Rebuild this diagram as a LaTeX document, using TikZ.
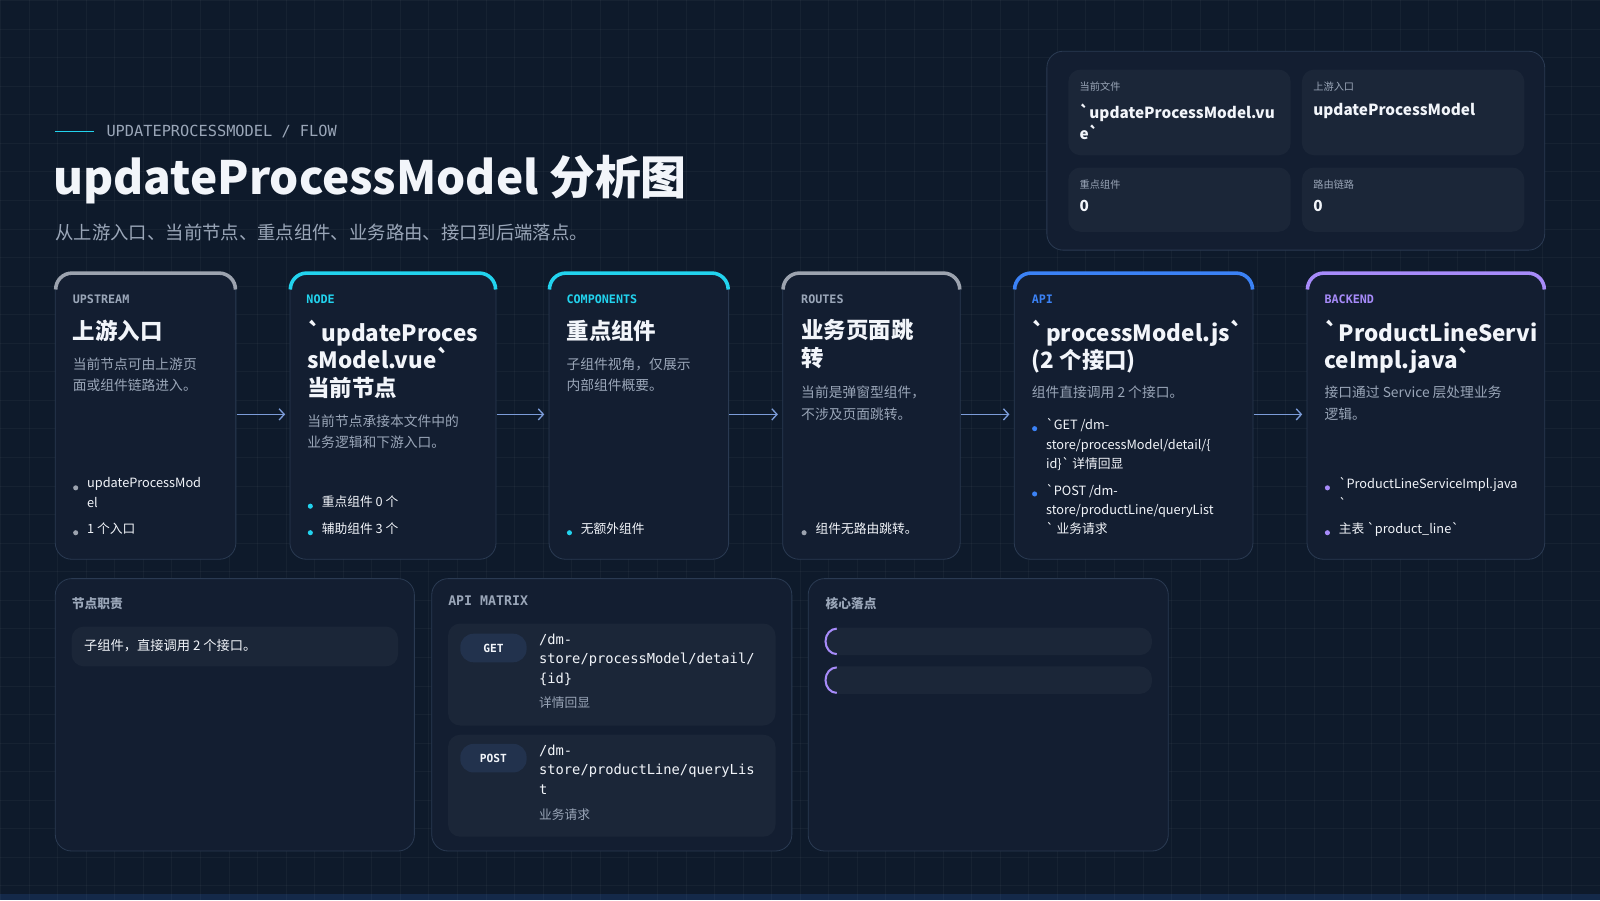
\documentclass[tikz,border=0pt]{standalone}
\usepackage{fontspec}
\setmainfont{Noto Sans CJK SC}[Ligatures=TeXOff]
\newfontfamily\monof{DejaVu Sans Mono}[Ligatures=TeXOff]
\usetikzlibrary{arrows.meta}
\definecolor{bg}{HTML}{0E1A2B}
\definecolor{cardf}{HTML}{131E31}
\definecolor{cardb}{HTML}{2A3A52}
\definecolor{subf}{HTML}{1B2638}
\definecolor{txt}{HTML}{F2F5FA}
\definecolor{mut}{HTML}{9AA6B8}
\definecolor{cyanA}{HTML}{22D3EE}
\definecolor{blueA}{HTML}{3B82F6}
\definecolor{purA}{HTML}{A78BFA}
\definecolor{grayA}{HTML}{9CA3AF}
\definecolor{arr}{HTML}{7C9CD9}
\definecolor{pill}{HTML}{22324D}
\begin{document}
\begin{tikzpicture}[x=1pt,y=-1pt,
  card/.style={draw=cardb,fill=cardf,rounded corners=16pt,line width=0.8pt},
  subbox/.style={fill=subf,rounded corners=12pt},
  tag/.style={anchor=north west,font=\monof\bfseries\fontsize{11.5}{13}\selectfont},
  ttl/.style={anchor=north west,font=\bfseries\fontsize{22}{27}\selectfont,text=txt,align=left,inner sep=0},
  desc/.style={anchor=north west,font=\fontsize{13.5}{21}\selectfont,text=mut,align=left,inner sep=0},
  bul/.style={anchor=north west,font=\fontsize{12.5}{19}\selectfont,text=txt,align=left,inner sep=0},
  flow/.style={-{Straight Barb[length=5pt,width=11pt]},draw=arr,line width=1.3pt},
  lbl/.style={anchor=north west,font=\bfseries\fontsize{12.5}{15}\selectfont,text=mut,inner sep=0}]
\fill[bg] (0,0) rectangle (1568,882);
\foreach \i in {0,28,...,1568} \draw[white,opacity=0.035] (\i,0)--(\i,882);
\foreach \i in {0,28,...,882} \draw[white,opacity=0.035] (0,\i)--(1568,\i);
\fill[blueA,opacity=0.15] (0,876) rectangle (1568,882);
% header
\draw[cyanA,line width=1.2pt] (54,129)--(92,129);
\node[anchor=west,text=mut,font=\monof\fontsize{15}{18}\selectfont,inner sep=0] (kick) at (104,129) {UPDATEPROCESSMODEL / FLOW};
\node[anchor=north west,text=txt,font=\bfseries\fontsize{45}{54}\selectfont,inner sep=0] (title) at (52,152) {updateProcessModel 分析图};
\node[anchor=north west,text=mut,font=\fontsize{18}{22}\selectfont,inner sep=0] (subt) at (54,219) {从上游入口、当前节点、重点组件、业务路由、接口到后端落点。};
% top right
\draw[card] (1026,50) rectangle (1514,245);
\fill[subbox] (1047,68) rectangle (1265,152);
\fill[subbox] (1276,68) rectangle (1494,152);
\fill[subbox] (1047,164) rectangle (1265,227);
\fill[subbox] (1276,164) rectangle (1494,227);
\node[anchor=north west,inner sep=0,text=mut,font=\fontsize{10}{12}\selectfont] (k1) at (1058,80) {当前文件};
\node[anchor=north west,inner sep=0,text=txt,font=\bfseries\fontsize{15}{21}\selectfont,align=left] (v1) at (1058,101) {`updateProcessModel.vu\\e`};
\node[anchor=north west,inner sep=0,text=mut,font=\fontsize{10}{12}\selectfont] (k2) at (1287,80) {上游入口};
\node[anchor=north west,inner sep=0,text=txt,font=\bfseries\fontsize{15}{21}\selectfont] (v2) at (1287,101) {updateProcessModel};
\node[anchor=north west,inner sep=0,text=mut,font=\fontsize{10}{12}\selectfont] (k3) at (1058,176) {重点组件};
\node[anchor=north west,inner sep=0,text=txt,font=\bfseries\fontsize{15}{21}\selectfont] (v3) at (1058,196) {0};
\node[anchor=north west,inner sep=0,text=mut,font=\fontsize{10}{12}\selectfont] (k4) at (1287,176) {路由链路};
\node[anchor=north west,inner sep=0,text=txt,font=\bfseries\fontsize{15}{21}\selectfont] (v4) at (1287,196) {0};
% cards
\def\cardat#1#2#3{\draw[card] (#1,267) rectangle (#2,548);
  \draw[#3,line width=3.5pt,rounded corners=16pt] (#1+0.4,283)|-(#2-0.4,267.5)--(#2-0.4,283);}
\cardat{54}{231}{grayA}
\cardat{284}{486}{cyanA}
\cardat{538}{714}{cyanA}
\cardat{767}{941}{grayA}
\cardat{994}{1228}{blueA}
\cardat{1281}{1514}{purA}
\node[inner sep=0] (c1) at (231,406) {};
\node[inner sep=0] (c2) at (280,406) {};
\node[inner sep=0] (c2r) at (486,406) {};
\node[inner sep=0] (c3) at (534,406) {};
\node[inner sep=0] (c3r) at (714,406) {};
\node[inner sep=0] (c4) at (763,406) {};
\node[inner sep=0] (c4r) at (941,406) {};
\node[inner sep=0] (c5) at (990,406) {};
\node[inner sep=0] (c5r) at (1228,406) {};
\node[inner sep=0] (c6) at (1277,406) {};
\draw[flow] (c1)--(c2);
\draw[flow] (c2r)--(c3);
\draw[flow] (c3r)--(c4);
\draw[flow] (c4r)--(c5);
\draw[flow] (c5r)--(c6);
% card 1
\node[tag,text=mut,inner sep=0] (t1) at (71,289) {UPSTREAM};
\node[ttl] (h1) at (71,313) {上游入口};
\node[desc] (d1) at (71,350) {当前节点可由上游页\\面或组件链路进入。};
\node[bul] (b1) at (85,468) {updateProcessMod\\el};
\node[bul] (b1b) at (85,512) {1 个入口};
% card 2
\node[tag,text=cyanA,inner sep=0] (t2) at (300,289) {NODE};
\node[ttl] (h2) at (301,313) {`updateProces\\sModel.vue`\\当前节点};
\node[desc] (d2) at (301,406) {当前节点承接本文件中的\\业务逻辑和下游入口。};
\node[bul] (b2) at (315,486) {重点组件 0 个};
\node[bul] (b2b) at (315,512) {辅助组件 3 个};
% card 3
\node[tag,text=cyanA,inner sep=0] (t3) at (555,289) {COMPONENTS};
\node[ttl] (h3) at (555,313) {重点组件};
\node[desc] (d3) at (555,350) {子组件视角，仅展示\\内部组件概要。};
\node[bul] (b3) at (569,512) {无额外组件};
% card 4
\node[tag,text=mut,inner sep=0] (t4) at (785,289) {ROUTES};
\node[ttl] (h4) at (785,313) {业务页面跳\\转};
\node[desc] (d4) at (785,378) {当前是弹窗型组件，\\不涉及页面跳转。};
\node[bul] (b4) at (799,512) {组件无路由跳转。};
% card 5
\node[tag,text=blueA,inner sep=0] (t5) at (1011,289) {API};
\node[ttl] (h5) at (1011,313) {`processModel.js`\\(2 个接口)};
\node[desc] (d5) at (1011,378) {组件直接调用 2 个接口。};
\node[bul] (b5) at (1025,410) {`GET /dm-\\store/processModel/detail/\{\\id\}` 详情回显};
\node[bul] (b5b) at (1025,474) {`POST /dm-\\store/productLine/queryList\\` 业务请求};
% card 6
\node[tag,text=purA,inner sep=0] (t6) at (1298,289) {BACKEND};
\node[ttl] (h6) at (1298,313) {`ProductLineServi\\ceImpl.java`};
\node[desc] (d6) at (1298,378) {接口通过 Service 层处理业务\\逻辑。};
\node[bul] (b6) at (1312,468) {`ProductLineServiceImpl.java\\`};
\node[bul] (b6b) at (1312,512) {主表 `product\_line`};
% bullets dots
\foreach \x/\y/\c in {74/478/grayA,74/522/grayA,304/496/cyanA,304/522/cyanA,558/522/cyanA,788/522/grayA,1014/420/blueA,1014/484/blueA,1301/478/purA,1301/522/purA}
  \fill[\c] (\x,\y) circle (2.5pt);
% bottom panels
\draw[card] (54,567) rectangle (406,834);
\draw[card] (423,567) rectangle (776,834);
\draw[card] (792,567) rectangle (1145,834);
\node[lbl] (p1) at (70,585) {节点职责};
\fill[subbox] (70,614) rectangle (390,653);
\node[anchor=west,inner sep=0,text=txt,font=\fontsize{13}{16}\selectfont] (r1) at (82,633) {子组件，直接调用 2 个接口。};
\node[lbl,font=\monof\bfseries\fontsize{13}{15}\selectfont] (p2) at (439,584) {API MATRIX};
\fill[subbox] (439,611) rectangle (760,711);
\fill[subbox] (439,720) rectangle (760,820);
\fill[pill,rounded corners=13pt] (451,621) rectangle (516,649);
\fill[pill,rounded corners=13pt] (451,729) rectangle (516,757);
\node[text=txt,font=\monof\bfseries\fontsize{11}{13}\selectfont] (g) at (483.5,635) {GET};
\node[text=txt,font=\monof\bfseries\fontsize{11}{13}\selectfont] (p) at (483.5,743) {POST};
\node[anchor=north west,inner sep=0,text=txt,font=\monof\fontsize{13.5}{19}\selectfont,align=left] (a1) at (528,621) {/dm-\\store/processModel/detail/\\\{id\}};
\node[anchor=north west,inner sep=0,text=mut,font=\fontsize{12.5}{15}\selectfont] (a1d) at (528,683) {详情回显};
\node[anchor=north west,inner sep=0,text=txt,font=\monof\fontsize{13.5}{19}\selectfont,align=left] (a2) at (528,730) {/dm-\\store/productLine/queryLis\\t};
\node[anchor=north west,inner sep=0,text=mut,font=\fontsize{12.5}{15}\selectfont] (a2d) at (528,792) {业务请求};
\node[lbl] (p3) at (809,585) {核心落点};
\fill[subbox] (808,615) rectangle (1129,642);
\fill[subbox] (808,653) rectangle (1129,680);
\draw[purA,line width=2pt] (820,616) arc[start angle=90,end angle=270,x radius=11pt,y radius=12.5pt];
\draw[purA,line width=2pt] (820,654) arc[start angle=90,end angle=270,x radius=11pt,y radius=12.5pt];
\end{tikzpicture}
\end{document}
